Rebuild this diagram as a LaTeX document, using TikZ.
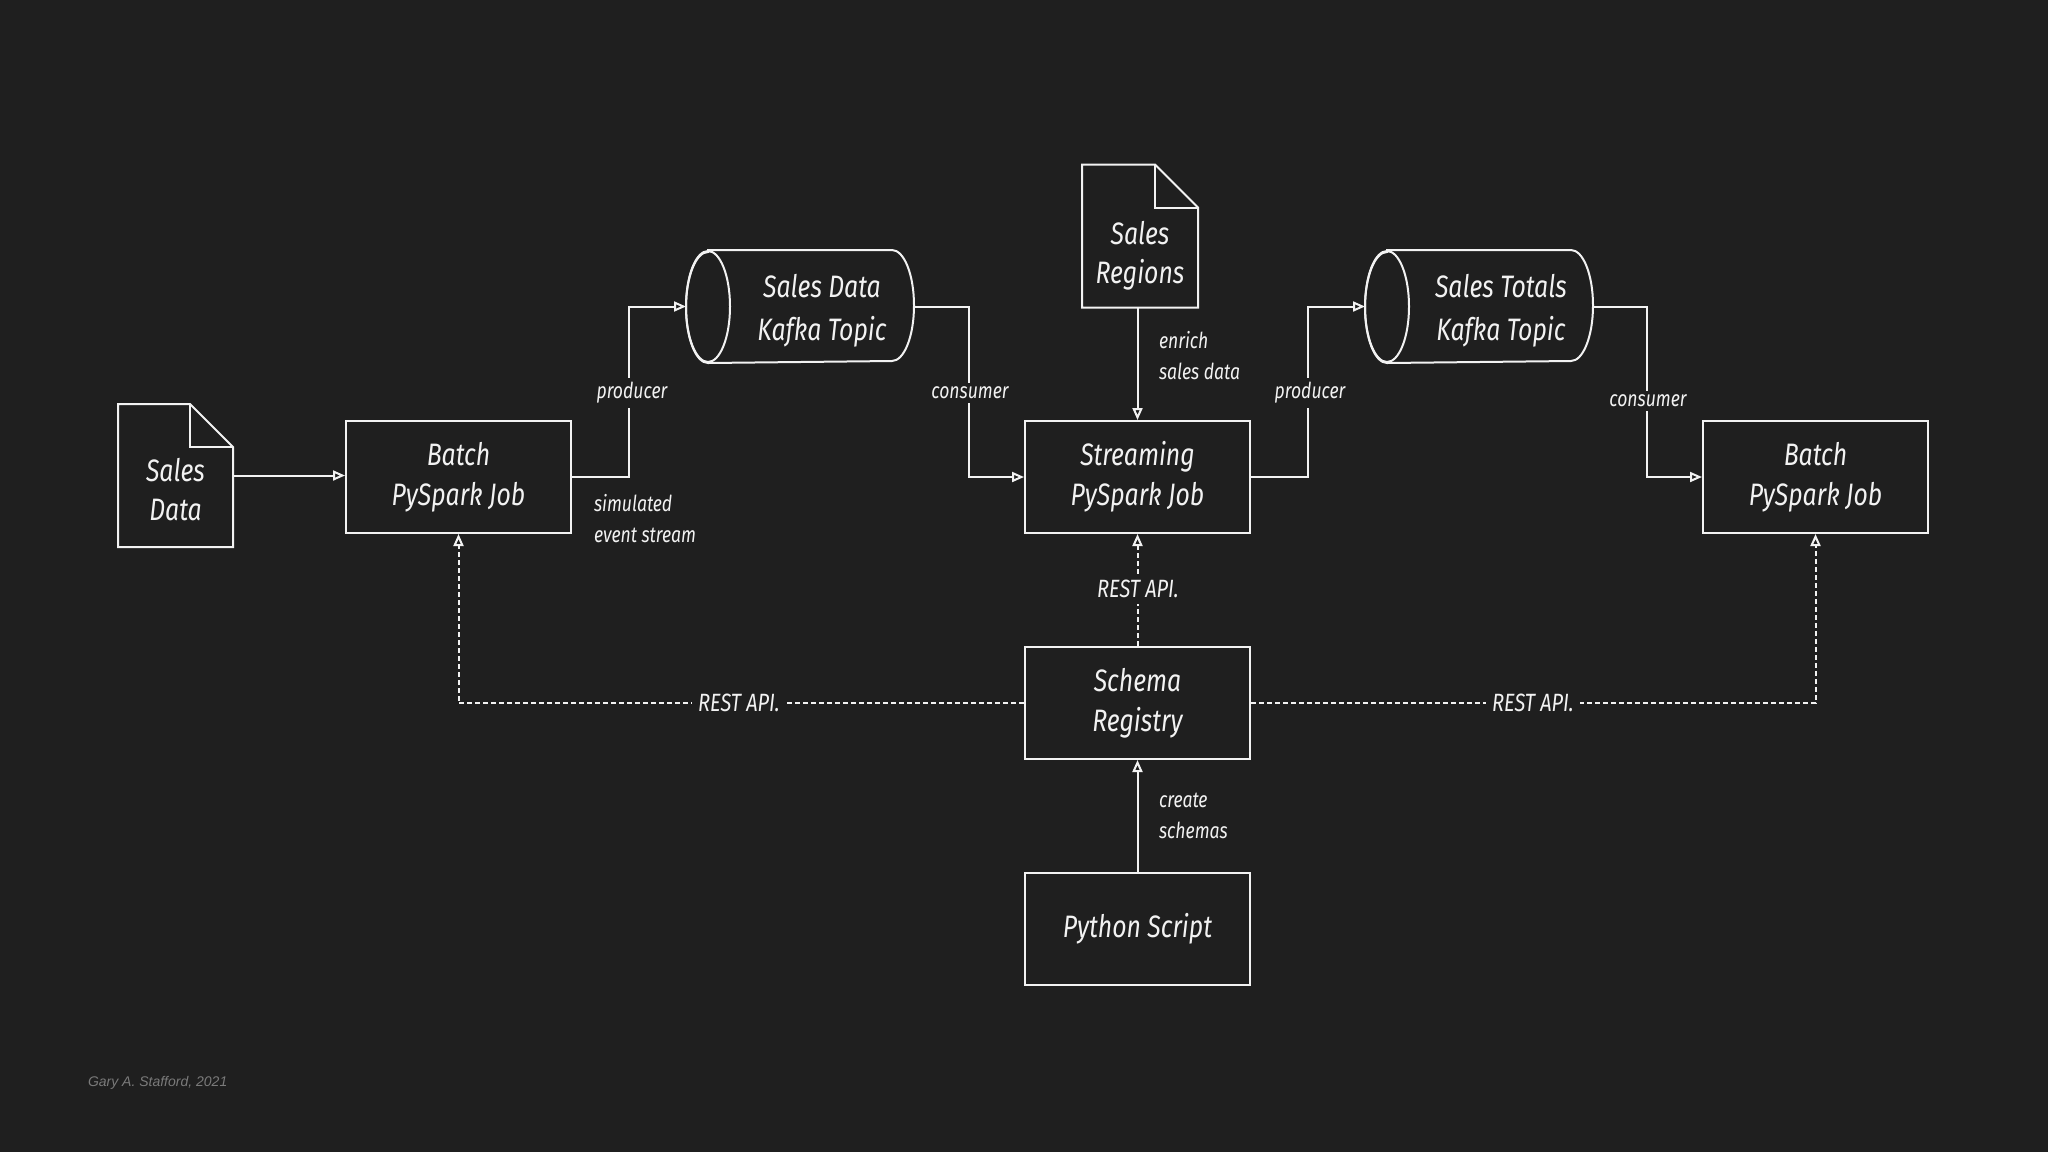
\documentclass[tikz,border=0pt]{standalone}
\usepackage{fontspec}
\newfontfamily\hand{Fira Sans}[FakeStretch=0.8]
\setsansfont{Liberation Sans}
\usetikzlibrary{arrows.meta,calc}
\definecolor{bg}{HTML}{1F1F1F}
\definecolor{fg}{HTML}{F2F2F2}
\definecolor{foot}{HTML}{7A7A7A}
\begin{document}
\begin{tikzpicture}[x=0.5pt,y=-0.5pt,
  line width=1pt,
  box/.style={draw=fg, fill=bg, minimum width=112.5pt, minimum height=56pt, align=center, text=fg,
    font=\hand\itshape\fontsize{15.5}{20}\selectfont},
  shell/.style={draw=none, inner sep=0pt},
  bigtxt/.style={align=center, text=fg, inner sep=0pt, font=\hand\itshape\fontsize{15.5}{19.5}\selectfont},
  lbl/.style={align=left, text=fg, inner sep=1.5pt, font=\hand\itshape\fontsize{11}{15.5}\selectfont},
  onlbl/.style={lbl, fill=bg, inner sep=2pt},
  restlbl/.style={text=fg, fill=bg, inner sep=3pt, font=\hand\itshape\fontsize{12.5}{15}\selectfont},
  arr/.style={draw=fg, -{Triangle[open, length=6pt, width=5pt]}},
  darr/.style={arr, dash pattern=on 2.5pt off 1.5pt},
  outline/.style={draw=fg, fill=bg, line join=miter}
]
\fill[bg] (0,0) rectangle (2048,1152);
\useasboundingbox (0,0) rectangle (2048,1152);

% ---------- documents ----------
\node[shell, minimum width=56.5pt, minimum height=70.5pt] (sd) at (175.5,475.5) {};
\draw[outline] (sd.north west) -- ([xshift=-21.5pt]sd.north east) -- ([yshift=-21.5pt]sd.north east) -- (sd.south east) -- (sd.south west) -- cycle;
\draw[fg] ([xshift=-21.5pt]sd.north east) -- ([xshift=-21.5pt,yshift=-21.5pt]sd.north east) -- ([yshift=-21.5pt]sd.north east);
\node[bigtxt] (sdt) at ([yshift=-7pt]sd.center) {Sales\\Data};

\node[shell, minimum width=57pt, minimum height=70.5pt] (rg) at (1140,236) {};
\draw[outline] (rg.north west) -- ([xshift=-21.5pt]rg.north east) -- ([yshift=-21.5pt]rg.north east) -- (rg.south east) -- (rg.south west) -- cycle;
\draw[fg] ([xshift=-21.5pt]rg.north east) -- ([xshift=-21.5pt,yshift=-21.5pt]rg.north east) -- ([yshift=-21.5pt]rg.north east);
\node[bigtxt] (rgt) at ([yshift=-10pt]rg.center) {Sales\\Regions};

% ---------- cylinders ----------
\foreach \nm/\cx/\txt in {k1/800/{Sales Data\\Kafka Topic}, k2/1479/{Sales Totals\\Kafka Topic}}{
  \node[shell, minimum width=113pt, minimum height=55.5pt] (\nm) at (\cx,306.5) {};
  \draw[outline] ([xshift=11pt]\nm.north west) -- ([xshift=-11pt]\nm.north east)
     arc[start angle=90, end angle=-90, x radius=11pt, y radius=27.75pt]
     -- ([xshift=11pt]\nm.south west)
     arc[start angle=270, end angle=90, x radius=11pt, y radius=27.75pt] -- cycle;
  \draw[fg] ([xshift=11pt]\nm.west) ellipse[x radius=11pt, y radius=27.75pt];
  \node[bigtxt, font=\hand\itshape\fontsize{15.5}{21.5}\selectfont] (\nm t) at ([xshift=11pt,yshift=-2pt]\nm.center) {\txt};
}

% ---------- boxes ----------
\node[box] (bL) at (458.5,477) {Batch\\PySpark Job};
\node[box] (st) at (1137.5,477) {Streaming\\PySpark Job};
\node[box] (bR) at (1815.5,477) {Batch\\PySpark Job};
\node[box] (sr) at (1137.5,703) {Schema\\Registry};
\node[box] (py) at (1137.5,929) {Python Script};

% ---------- solid connectors ----------
\draw[arr] (sd.east) -- (sd.east -| bL.west);
\draw[arr] (bL.east) -| ([xshift=-28.5pt]k1.west) -- (k1.west);
\draw[arr] (k1.east) -| ([xshift=27.5pt]k1.east |- st.west) -- (st.west);
\draw[arr] (rg.south -| st.north) -- (st.north);
\draw[arr] (st.east) -| ([xshift=-28.5pt]k2.west) -- (k2.west);
\draw[arr] (k2.east) -| ([xshift=27pt]k2.east |- bR.west) -- (bR.west);
\draw[arr] (py.north) -- (sr.south);

% ---------- dashed connectors ----------
\draw[darr] (sr.north) -- (st.south);
\draw[darr] (sr.west) -| (bL.south);
\draw[darr] (sr.east) -| (bR.south);

% ---------- labels ----------
\node[onlbl] (l1) at (632,393) {producer};
\node[onlbl] (l2) at (970,393) {consumer};
\node[onlbl] (l3) at (1310,393) {producer};
\node[onlbl] (l4) at (1648,401) {consumer};
\node[lbl, anchor=west] (l5) at (590,519) {simulated\\event stream};
\node[lbl, anchor=west] (l6) at (1155,356) {enrich\\sales data};
\node[lbl, anchor=west] (l7) at (1155,816) {create\\schemas};
\node[restlbl] (r1) at (1138,589) {REST API.};
\node[restlbl] (r2) at (739,703) {REST API.};
\node[restlbl] (r3) at (1533,703) {REST API.};

% ---------- footer ----------
\node[anchor=west, inner sep=0pt, text=foot, font=\sffamily\itshape\fontsize{7}{8}\selectfont] (ft) at (87,1083) {Gary A. Stafford, 2021};
\end{tikzpicture}
\end{document}
